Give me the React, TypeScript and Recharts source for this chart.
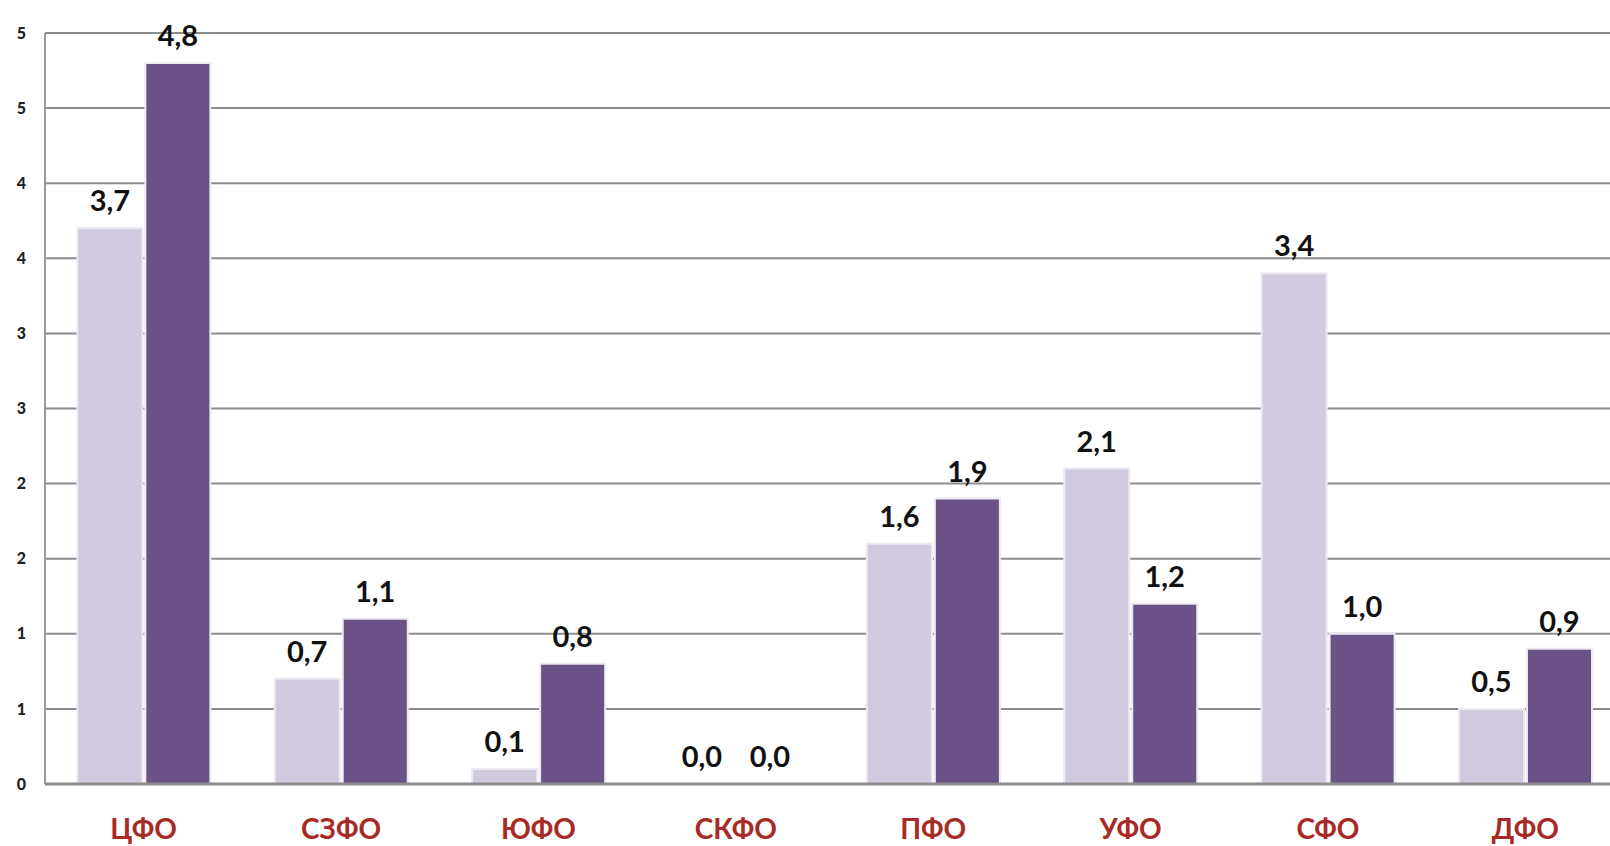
import { BarChart, Bar, XAxis, YAxis, CartesianGrid, LabelList } from 'recharts';

const REGIONS = ['ЦФО', 'СЗФО', 'ЮФО', 'СКФО', 'ПФО', 'УФО', 'СФО', 'ДФО'];
const SERIES_A = [3.7, 0.7, 0.1, 0.0, 1.6, 2.1, 3.4, 0.5];
const SERIES_B = [4.8, 1.1, 0.8, 0.0, 1.9, 1.2, 1.0, 0.9];
const Y_TICKS = [0, 0.5, 1, 1.5, 2, 2.5, 3, 3.5, 4, 4.5, 5];

const LIGHT = '#d1cadf';
const DARK = '#6a5286';
const FONT = 'Lato, "Open Sans", sans-serif';

const data = REGIONS.map((name, i) => ({ name, a: SERIES_A[i], b: SERIES_B[i] }));

const fmt = (v: number) => v.toFixed(1).replace('.', ',');

const labelStyle = { fill: '#111', fontSize: 29, fontWeight: 700, fontFamily: FONT };

// the plot runs a little past the right edge of the picture, so clip it
export default function App() {
  return (
    <div
      style={{
        position: 'absolute',
        left: 0,
        top: 0,
        width: 1610,
        height: 846,
        overflow: 'hidden',
        background: '#fff',
        fontFamily: FONT
      }}
    >
      <BarChart
        width={1624}
        height={846}
        data={data}
        margin={{ top: 33, right: 0, bottom: 0, left: 0 }}
        barCategoryGap="16.4%"
        barGap={3}
      >
        <CartesianGrid vertical={false} stroke="#8c8c8c" strokeWidth={2} />
        <XAxis
          dataKey="name"
          height={62}
          tickLine={false}
          tickSize={0}
          tickMargin={35}
          axisLine={{ stroke: '#8c8c8c', strokeWidth: 3 }}
          tick={{ fill: '#a82a26', fontSize: 28, fontWeight: 700, fontFamily: FONT }}
          interval={0}
        />
        <YAxis
          width={45}
          domain={[0, 5]}
          ticks={Y_TICKS}
          tickFormatter={(v: number) => String(Math.round(v))}
          tickLine={false}
          tickSize={0}
          tickMargin={19}
          axisLine={{ stroke: '#9a9a9a', strokeWidth: 2 }}
          tick={{ fill: '#222', fontSize: 16, fontWeight: 900, fontFamily: FONT }}
        />
        <Bar dataKey="a" fill={LIGHT} stroke="#ece9f1" strokeWidth={2} minPointSize={0.01} isAnimationActive={false}>
          <LabelList dataKey="a" position="top" offset={17} formatter={(v: number) => fmt(v)} style={labelStyle} />
        </Bar>
        <Bar dataKey="b" fill={DARK} stroke="#ece9f1" strokeWidth={2} minPointSize={0.01} isAnimationActive={false}>
          <LabelList dataKey="b" position="top" offset={17} formatter={(v: number) => fmt(v)} style={labelStyle} />
        </Bar>
      </BarChart>
    </div>
  );
}
